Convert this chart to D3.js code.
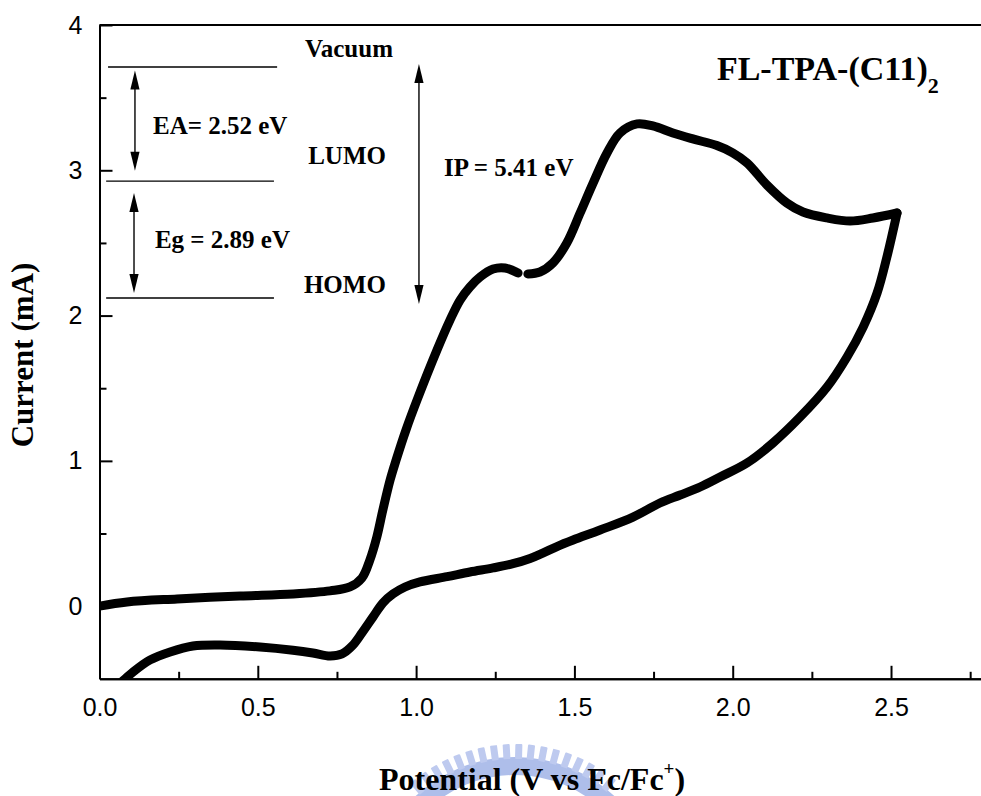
<!DOCTYPE html>
<html>
<head>
<meta charset="utf-8">
<script src="https://cdn.jsdelivr.net/npm/d3@7"></script>
<style>
  body { margin: 0; background: #fff; }
  svg { display: block; }
</style>
</head>
<body>
<div id="chart"></div>
<script>
// ── Data (potential V vs Fc/Fc+, current mA) ─────────────────────
// forward scan up to the small break near 1.33 V
const scanForwardA = [
  [0.000, 0.000], [0.087, 0.029], [0.245, 0.050], [0.444, 0.070], [0.611, 0.084],
  [0.728, 0.105], [0.791, 0.132], [0.829, 0.194], [0.854, 0.318], [0.876, 0.477],
  [0.895, 0.662], [0.918, 0.869], [0.936, 1.000], [0.968, 1.213], [1.003, 1.419],
  [1.066, 1.763], [1.107, 1.969], [1.139, 2.107], [1.170, 2.197], [1.202, 2.265],
  [1.243, 2.320], [1.281, 2.327], [1.322, 2.293]
];
// forward scan after the break, up to the vertex
const scanForwardB = [
  [1.353, 2.286], [1.391, 2.300], [1.432, 2.362], [1.476, 2.500], [1.518, 2.706],
  [1.559, 2.912], [1.603, 3.119], [1.644, 3.257], [1.698, 3.319], [1.748, 3.305],
  [1.811, 3.257], [1.874, 3.216], [1.950, 3.170], [2.000, 3.120], [2.045, 3.051],
  [2.108, 2.899], [2.171, 2.775], [2.222, 2.713], [2.298, 2.672], [2.371, 2.651],
  [2.443, 2.672], [2.519, 2.706]
];
// reverse scan from the vertex back down
const scanReverse = [
  [2.519, 2.706], [2.487, 2.403], [2.456, 2.155], [2.412, 1.921], [2.361, 1.715],
  [2.298, 1.508], [2.213, 1.302], [2.127, 1.123], [2.045, 0.985], [1.960, 0.889],
  [1.897, 0.820], [1.834, 0.765], [1.770, 0.710], [1.685, 0.613], [1.581, 0.524],
  [1.496, 0.455], [1.445, 0.410], [1.400, 0.365], [1.360, 0.328], [1.306, 0.292],
  [1.243, 0.263], [1.170, 0.235], [1.098, 0.203], [1.012, 0.167], [0.965, 0.132],
  [0.927, 0.084], [0.895, 0.022], [0.864, -0.074], [0.829, -0.184], [0.798, -0.274],
  [0.766, -0.329], [0.728, -0.343], [0.674, -0.322], [0.611, -0.303], [0.507, -0.281],
  [0.381, -0.267], [0.295, -0.274], [0.223, -0.315], [0.160, -0.370], [0.106, -0.453],
  [0.081, -0.501], [0.033, -0.590]
];

const xMajor = [0, 0.5, 1.0, 1.5, 2.0, 2.5];
const xMinor = [0.25, 0.75, 1.25, 1.75, 2.25, 2.75];
const yMajor = [0, 1, 2, 3, 4];
const yMinor = [0.5, 1.5, 2.5, 3.5];

// energy level diagram (drawn in data units)
const levelY  = [3.711, 2.926, 2.121];
const levelX0 = [0.027, 0.021, 0.021];
const levelX1 = [0.561, 0.551, 0.551];
const arrowX  = [0.112, 0.109, 1.009];
const arrowY0 = [3.686, 2.844, 3.731];
const arrowY1 = [2.997, 2.155, 2.079];

const labelText   = ['Vacuum', 'EA= 2.52 eV', 'LUMO', 'Eg = 2.89 eV', 'HOMO', 'IP = 5.41 eV'];
const labelX      = [0.788, 0.169, 0.782, 0.175, 0.775, 1.088];
const labelY      = [3.780, 3.250, 3.044, 2.465, 2.156, 2.961];
const labelAnchor = ['middle', 'start', 'middle', 'start', 'middle', 'start'];

// ── Setup ────────────────────────────────────────────────────────
const W = 981, H = 796;
const SERIF = '"Liberation Serif", "Times New Roman", serif';
const SANS = '"Liberation Sans", Arial, sans-serif';

const x = d3.scaleLinear().domain([0, 2.8]).range([99.5, 986]);
const y = d3.scaleLinear().domain([-0.5, 4]).range([678.8, 25]);

const svg = d3.select('#chart').append('svg')
  .attr('width', W)
  .attr('height', H);

// ── Watermark (faint gear behind the x title) ────────────────────
const wm = svg.append('g')
  .attr('transform', 'translate(515,903)')
  .attr('opacity', 0.8);
wm.append('path')
  .attr('d', d3.arc().innerRadius(128).outerRadius(146).startAngle(-0.78).endAngle(0.78)())
  .attr('fill', '#9aaee6');
d3.range(-40, 40.1, 4.6).forEach(a => {
  wm.append('rect')
    .attr('x', -3.5).attr('y', -159)
    .attr('width', 7).attr('height', 15)
    .attr('rx', 1)
    .attr('fill', '#aebdec')
    .attr('transform', `rotate(${a})`);
});

// ── Curve ────────────────────────────────────────────────────────
svg.append('clipPath').attr('id', 'plot-clip')
  .append('rect')
  .attr('x', x(0)).attr('y', y(4))
  .attr('width', x(2.8) - x(0)).attr('height', y(-0.5) - y(4));

const line = d3.line()
  .x(d => x(d[0]))
  .y(d => y(d[1]))
  .curve(d3.curveCatmullRom.alpha(0.5));

svg.append('g')
  .attr('clip-path', 'url(#plot-clip)')
  .selectAll('path')
  .data([scanForwardA, scanForwardB, scanReverse])
  .enter()
  .append('path')
  .attr('d', line)
  .attr('fill', 'none')
  .attr('stroke', '#000')
  .attr('stroke-width', 9)
  .attr('stroke-linecap', 'round')
  .attr('stroke-linejoin', 'round');

// ── Axes ─────────────────────────────────────────────────────────
function styleAxis(g) {
  g.selectAll('.domain, .tick line').attr('stroke', '#000').attr('stroke-width', 2);
  g.selectAll('text')
    .attr('fill', '#000')
    .attr('font-family', SANS)
    .attr('font-size', 25);
}

svg.append('g')
  .attr('transform', `translate(0,${y(-0.5)})`)
  .call(d3.axisBottom(x).tickValues(xMinor).tickSizeInner(-7).tickSizeOuter(0).tickFormat(''))
  .call(styleAxis);
svg.append('g')
  .attr('transform', `translate(0,${y(-0.5)})`)
  .call(d3.axisBottom(x).tickValues(xMajor).tickSizeInner(-13).tickSizeOuter(0)
    .tickPadding(19).tickFormat(d3.format('.1f')))
  .call(styleAxis);

svg.append('g')
  .attr('transform', `translate(${x(0)},0)`)
  .call(d3.axisLeft(y).tickValues(yMinor).tickSizeInner(-7).tickSizeOuter(0).tickFormat(''))
  .call(styleAxis);
svg.append('g')
  .attr('transform', `translate(${x(0)},0)`)
  .call(d3.axisLeft(y).tickValues(yMajor).tickSizeInner(-13).tickSizeOuter(0)
    .tickPadding(17).tickFormat(d3.format('d')))
  .call(styleAxis);

// top frame line
svg.append('line')
  .attr('x1', x(0)).attr('x2', x(2.8))
  .attr('y1', y(4)).attr('y2', y(4))
  .attr('stroke', '#000').attr('stroke-width', 2);

// ── Axis titles ──────────────────────────────────────────────────
svg.append('text')
  .attr('transform', 'translate(33,355) rotate(-90)')
  .attr('text-anchor', 'middle')
  .attr('font-family', SERIF)
  .attr('font-weight', 'bold')
  .attr('font-size', 31)
  .text('Current (mA)');

const xt = svg.append('text')
  .attr('x', 532).attr('y', 790)
  .attr('text-anchor', 'middle')
  .attr('font-family', SERIF)
  .attr('font-weight', 'bold')
  .attr('font-size', 32);
xt.append('tspan').text('Potential (V vs Fc/Fc');
xt.append('tspan').attr('dy', -15).attr('font-size', 19).text('+');
xt.append('tspan').attr('dy', 15).text(')');

// ── Compound name ────────────────────────────────────────────────
const title = svg.append('text')
  .attr('x', x(1.95)).attr('y', y(3.62))
  .attr('font-family', SERIF)
  .attr('font-weight', 'bold')
  .attr('font-size', 34);
title.append('tspan').text('FL-TPA-(C11)');
title.append('tspan').attr('dy', 13).attr('font-size', 22).text('2');

// ── Energy level diagram ─────────────────────────────────────────
const diag = svg.append('g');

diag.selectAll('line.level')
  .data(levelY)
  .enter()
  .append('line')
  .attr('class', 'level')
  .attr('x1', (d, i) => x(levelX0[i]))
  .attr('x2', (d, i) => x(levelX1[i]))
  .attr('y1', d => y(d))
  .attr('y2', d => y(d))
  .attr('stroke', '#000')
  .attr('stroke-width', 1.3);

const HEAD_L = 19, HEAD_W = 4.6;
arrowX.forEach((ax, i) => {
  const px = x(ax), top = y(arrowY0[i]), bot = y(arrowY1[i]);
  diag.append('line')
    .attr('x1', px).attr('x2', px)
    .attr('y1', top + 6).attr('y2', bot - 6)
    .attr('stroke', '#000').attr('stroke-width', 1.4);
  diag.append('path')
    .attr('d', `M${px},${top}L${px - HEAD_W},${top + HEAD_L}L${px + HEAD_W},${top + HEAD_L}Z`)
    .attr('fill', '#000');
  diag.append('path')
    .attr('d', `M${px},${bot}L${px - HEAD_W},${bot - HEAD_L}L${px + HEAD_W},${bot - HEAD_L}Z`)
    .attr('fill', '#000');
});

diag.selectAll('text')
  .data(labelText)
  .enter()
  .append('text')
  .attr('x', (d, i) => x(labelX[i]))
  .attr('y', (d, i) => y(labelY[i]))
  .attr('text-anchor', (d, i) => labelAnchor[i])
  .attr('font-family', SERIF)
  .attr('font-weight', 'bold')
  .attr('font-size', 25)
  .text(d => d);
</script>
</body>
</html>
